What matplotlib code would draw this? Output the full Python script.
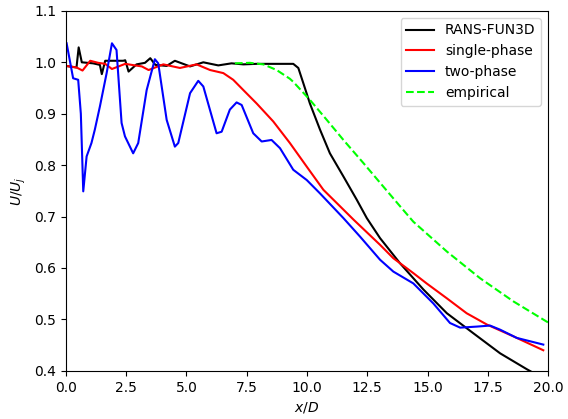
import matplotlib
matplotlib.use("Agg")
import matplotlib.pyplot as plt

# RANS-FUN3D
x_rans = [0.0, 0.44, 0.53, 0.66, 1.13, 1.41, 1.49, 1.63, 2.38, 2.46, 2.60, 2.93, 3.28, 3.50,
          3.71, 4.18, 4.52, 5.15, 5.70, 6.32, 6.87, 7.36, 7.91, 9.43, 9.64, 9.85, 10.12, 10.54,
          10.95, 11.51, 12.06, 12.48, 13.03, 13.86, 14.83, 15.80, 16.90, 18.01, 19.12, 20.0]
y_rans = [0.993, 0.990, 1.029, 1.000, 0.998, 0.995, 0.977, 1.003, 1.003, 1.004, 0.982, 0.996, 0.999, 1.008,
          0.995, 0.993, 1.003, 0.992, 1.000, 0.994, 0.998, 0.996, 0.997, 0.997, 0.989, 0.959, 0.920, 0.869,
          0.823, 0.778, 0.733, 0.697, 0.658, 0.609, 0.558, 0.512, 0.473, 0.434, 0.403, 0.38]

# single-phase
x_single = [0.0, 0.44, 0.69, 1.01, 1.34, 1.63, 1.91, 2.46, 2.73, 3.15, 3.43, 4.04, 4.73, 5.42,
            5.98, 6.53, 6.94, 7.36, 7.91, 8.60, 9.29, 9.99, 10.68, 11.37, 11.93, 13.03, 13.58,
            14.41, 14.96, 15.80, 16.62, 17.46, 18.56, 19.80]
y_single = [0.993, 0.990, 0.984, 1.003, 0.999, 0.997, 0.987, 0.997, 0.995, 0.992, 0.985, 0.996, 0.989, 0.996,
            0.985, 0.979, 0.966, 0.946, 0.920, 0.885, 0.843, 0.797, 0.752, 0.720, 0.694, 0.645, 0.619,
            0.590, 0.570, 0.541, 0.512, 0.490, 0.467, 0.440]

# two-phase
x_two = [0.03, 0.3, 0.51, 0.62, 0.72, 0.86, 1.06, 1.2, 1.41, 1.69, 1.91, 2.1, 2.31, 2.45, 2.79,
         3.0, 3.35, 3.69, 3.83, 4.18, 4.52, 4.66, 5.15, 5.49, 5.7, 6.25, 6.46, 6.80, 7.08, 7.29,
         7.77, 8.12, 8.53, 8.88, 9.43, 9.99, 10.54, 11.51, 12.2, 13.03, 13.58, 14.41, 15.24,
         15.93, 16.35, 17.04, 17.59, 18.01, 18.70, 19.80]
y_two = [1.037, 0.969, 0.966, 0.9, 0.749, 0.817, 0.843, 0.869, 0.914, 0.979, 1.037, 1.024, 0.882, 0.856, 0.823,
         0.843, 0.946, 1.006, 0.998, 0.888, 0.836, 0.843, 0.940, 0.964, 0.953, 0.862, 0.865, 0.908, 0.922, 0.917,
         0.862, 0.846, 0.849, 0.833, 0.791, 0.771, 0.745, 0.697, 0.661, 0.616, 0.593, 0.570, 0.531,
         0.493, 0.484, 0.486, 0.488, 0.480, 0.464, 0.451]

# empirical
x_emp = [7.01, 7.63, 8.19, 8.74, 9.29, 9.43, 10.12, 10.82, 11.51, 12.34, 13.17, 13.86, 14.41,
         15.80, 17.18, 18.56, 20.0]
y_emp = [0.998, 0.999, 0.996, 0.985, 0.968, 0.962, 0.927, 0.888, 0.849, 0.804, 0.758, 0.720, 0.690,
         0.632, 0.580, 0.535, 0.494]


def main():
    fig = plt.figure(figsize=(5.68, 4.19), dpi=100)
    ax = fig.add_axes([0.116, 0.115, 0.849, 0.859])
    ax.plot(x_rans, y_rans, color='black', lw=1.5, label="RANS-FUN3D")
    ax.plot(x_single, y_single, color='red', lw=1.5, label="single-phase")
    ax.plot(x_two, y_two, color='blue', lw=1.5, label="two-phase")
    ax.plot(x_emp, y_emp, color='lime', lw=1.5, ls='--', label="empirical")

    ax.set_xlim(0, 20)
    ax.set_ylim(0.4, 1.1)
    ax.set_xlabel("$x/D$")
    ax.set_ylabel("$U/U_j$")
    ax.legend(loc='upper right')
    fig.savefig("out.png", dpi=100)


if __name__ == '__main__':
    main()
